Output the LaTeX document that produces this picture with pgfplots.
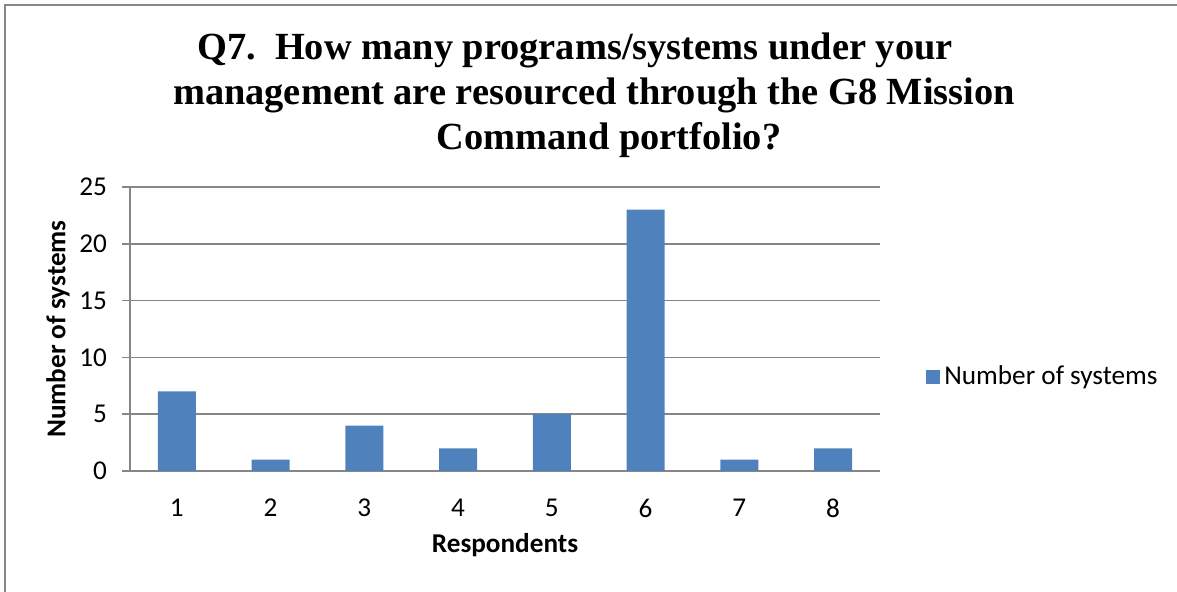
\documentclass[border=0pt]{standalone}
\usepackage{pgfplots}
\pgfplotsset{compat=1.18}
\usepackage{fontspec}
\setmainfont{Carlito}
\newfontfamily\titlefont{Liberation Serif}
\definecolor{barblue}{HTML}{4F81BD}
\definecolor{gridgray}{HTML}{868686}
\begin{document}
\begin{tikzpicture}
\path[use as bounding box] (0pt,0pt) rectangle (588.5pt,296pt);
\draw[gridgray, line width=1pt] (2.5pt,0pt) -- (2.5pt,293.5pt) -- (588.5pt,293.5pt);
\node[align=center, font=\titlefont\bfseries\fontsize{19.2}{22.6}\selectfont] at (297pt,248.5pt)
  {Q7.\ \ How many programs/systems under your\hspace*{19pt}\\management are resourced through the G8 Mission\\\hspace*{15pt}Command portfolio?};
\begin{axis}[
  at={(65pt,60.5pt)}, anchor=south west,
  scale only axis, width=375pt, height=142pt,
  xmin=0.5, xmax=8.5, ymin=0, ymax=25,
  xtick={1,...,8}, ytick={0,5,...,25},
  axis lines*=left,
  axis line style={gridgray, line width=0.75pt},
  ymajorgrids, grid style={gridgray, line width=0.75pt},
  tick align=outside, major tick length=4pt,
  ytick style={gridgray, line width=0.75pt},
  xtick style={draw=none},
  /pgf/number format/assume math mode=true,
  tick label style={font=\fontsize{13.6}{15}\selectfont, text=black},
  yticklabel style={xshift=-4pt},
  xticklabel style={yshift=-6.5pt},
  label style={font=\bfseries\fontsize{13.6}{15}\selectfont},
  xlabel={Respondents},
  ylabel={Number of systems},
  xlabel style={at={(axis description cs:0.5,-0.262)}, anchor=center},
  ylabel style={at={(axis description cs:-0.096,0.5)}, anchor=center},
  legend style={at={(axis description cs:1.0613,0.331)}, anchor=west, draw=none, fill=none,
    inner sep=0pt, font=\fontsize{13.6}{15}\selectfont},
  legend image code/.code={\fill[barblue] (-3pt,-3.5pt) rectangle (4pt,3.5pt);},
]
\addplot[ybar, bar width=19pt, fill=barblue, draw=none] coordinates {
  (1,7) (2,1) (3,4) (4,2) (5,5) (6,23) (7,1) (8,2)
};
\addlegendentry{Number of systems}
\end{axis}
\end{tikzpicture}
\end{document}
